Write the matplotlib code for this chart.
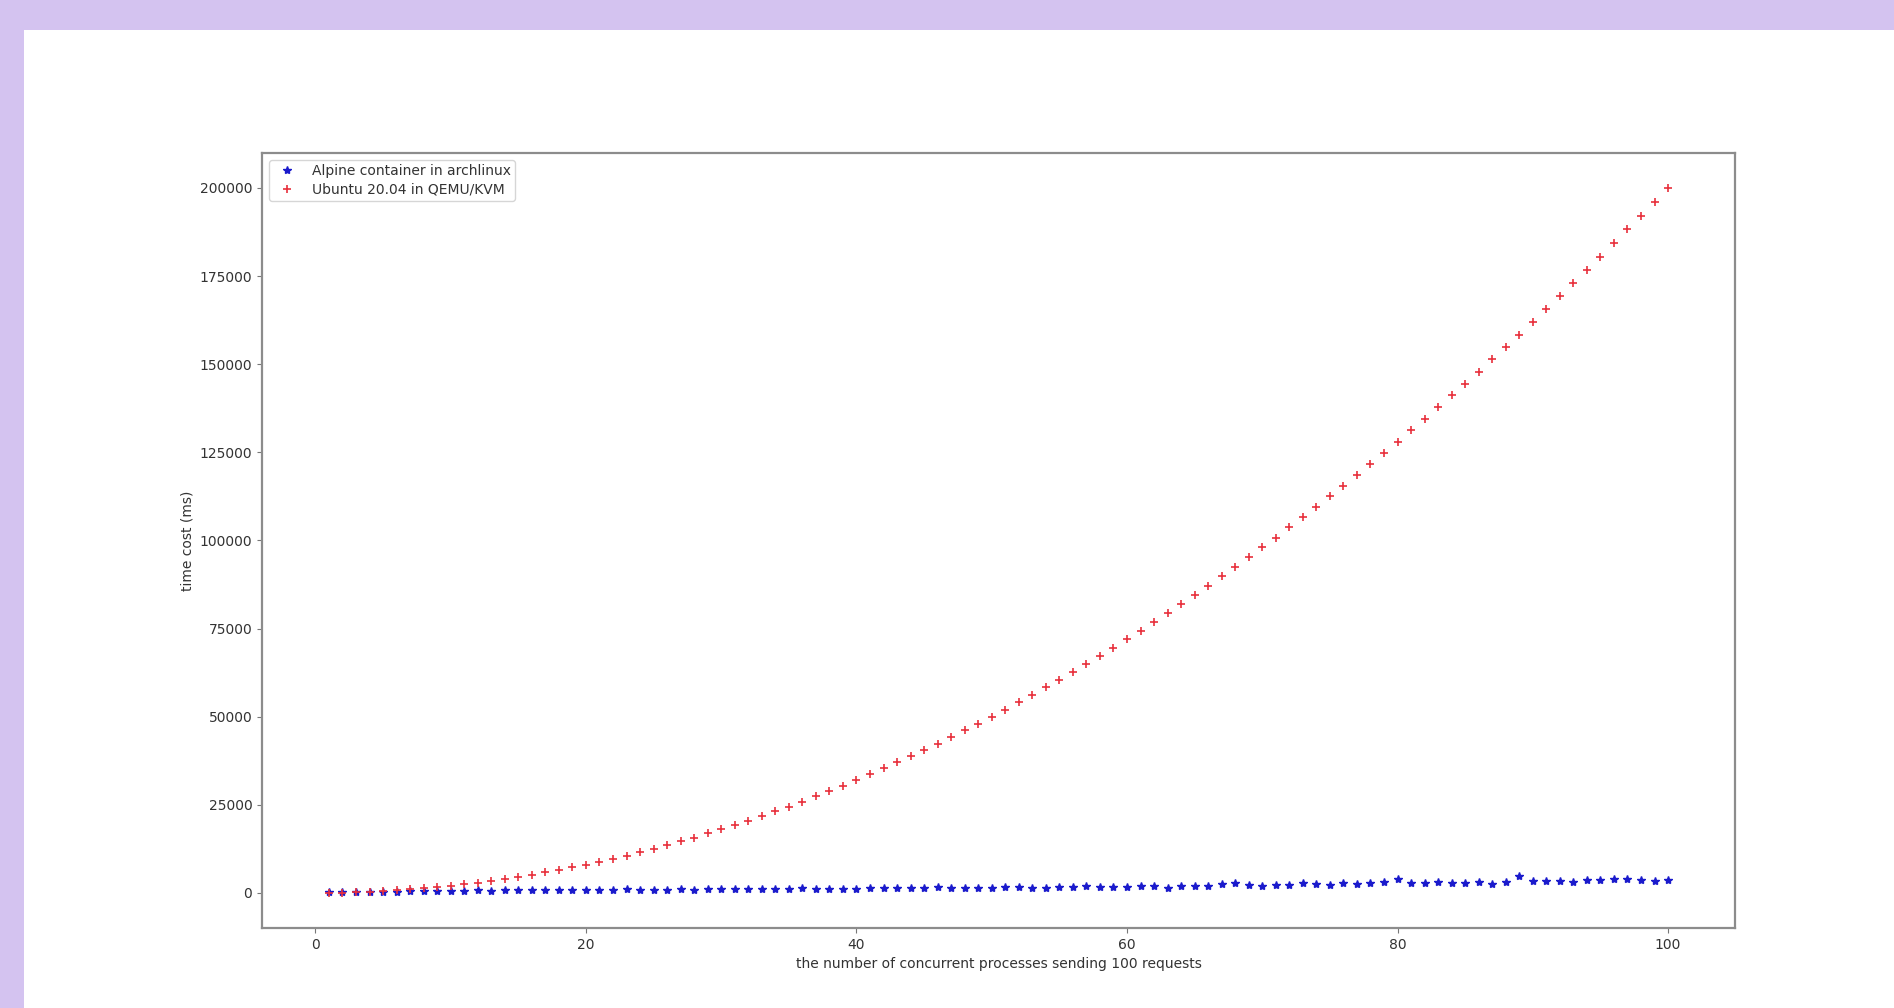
import matplotlib
matplotlib.use("Agg")
import matplotlib.pyplot as plt
from matplotlib.patches import Rectangle

# number of concurrent processes (each sending 100 requests)
processes = list(range(1, 101))

# total time cost in ms for the Alpine container on archlinux
alpine_ms = [
    120, 180, 230, 280, 330, 380, 430, 480, 520, 560,
    620, 680, 650, 720, 760, 730, 800, 860, 780, 840,
    950, 830, 980, 900, 860, 950, 990, 940, 1010, 1050,
    990, 1060, 1100, 1080, 1120, 1350, 1100, 1150, 1180, 1220,
    1300, 1320, 1280, 1350, 1380, 1650, 1400, 1450, 1380, 1500,
    1550, 1600, 1480, 1520, 1560, 1650, 2050, 1700, 1750, 1650,
    1950, 1850, 1350, 1950, 1900, 2050, 2400, 2900, 2100, 2050,
    2150, 2350, 2800, 2500, 2150, 2800, 2600, 2700, 3200, 4000,
    2700, 2850, 2950, 2850, 2700, 3050, 2400, 3150, 4800, 3500,
    3400, 3450, 3100, 3600, 3650, 3800, 3800, 3600, 3500, 3550,
]

# total time cost in ms for Ubuntu 20.04 running in QEMU/KVM
ubuntu_ms = [
    30, 95, 190, 330, 510, 740, 1000, 1300, 1650, 2050,
    2450, 2900, 3400, 3950, 4500, 5150, 5800, 6500, 7250, 8000,
    8850, 9700, 10600, 11550, 12500, 13500, 14600, 15700, 16850, 18000,
    19250, 20500, 21800, 23150, 24500, 25900, 27400, 28900, 30400, 32000,
    33600, 35300, 37000, 38700, 40500, 42300, 44200, 46100, 48000, 50000,
    52000, 54100, 56200, 58300, 60500, 62700, 65000, 67300, 69600, 72000,
    74400, 76900, 79400, 81900, 84500, 87100, 89800, 92500, 95200, 98000,
    100800, 103700, 106600, 109500, 112500, 115500, 118600, 121700, 124800, 128000,
    131200, 134500, 137800, 141100, 144500, 147900, 151400, 154900, 158400, 162000,
    165600, 169300, 173000, 176700, 180500, 184300, 188200, 192100, 196000, 199900,
]

series_labels = ["Alpine container in archlinux", "Ubuntu 20.04 in QEMU/KVM"]
x_label = "the number of concurrent processes sending 100 requests"
y_label = "time cost (ms)"

fig = plt.figure(figsize=(18.94, 10.08), dpi=100, facecolor="#d4c3f0")
# white page area inside the lilac frame
page = Rectangle((24 / 1894, 0), 1 - 24 / 1894, 1 - 30 / 1008,
                 transform=fig.transFigure, facecolor="white",
                 edgecolor="none", zorder=-10)
fig.add_artist(page)

ax = fig.add_axes([262 / 1894, 1 - 928 / 1008, (1735 - 262) / 1894, (928 - 153) / 1008])
ax.set_zorder(1)
ax.set_facecolor("white")

ax.plot(processes, alpine_ms, "*", color="#1a1acc", markersize=6, label=series_labels[0])
ax.plot(processes, ubuntu_ms, "+", color="#e8303c", markersize=6, markeredgewidth=1.2,
        label=series_labels[1])

ax.set_xticks([0, 20, 40, 60, 80, 100])
ax.set_yticks([0, 25000, 50000, 75000, 100000, 125000, 150000, 175000, 200000])

text_color = "#333333"
ax.set_xlabel(x_label, fontsize=10, color=text_color)
ax.set_ylabel(y_label, fontsize=10, color=text_color)
ax.tick_params(labelsize=10, colors="#777777", labelcolor=text_color)
for sp in ax.spines.values():
    sp.set_color("#8c8c8c")
    sp.set_linewidth(1.6)

leg = ax.legend(loc="upper left", fontsize=10, markerscale=1.0, borderpad=0.3,
                labelspacing=0.35)
for t in leg.get_texts():
    t.set_color(text_color)

fig.savefig("out.png", dpi=100, facecolor=fig.get_facecolor())
